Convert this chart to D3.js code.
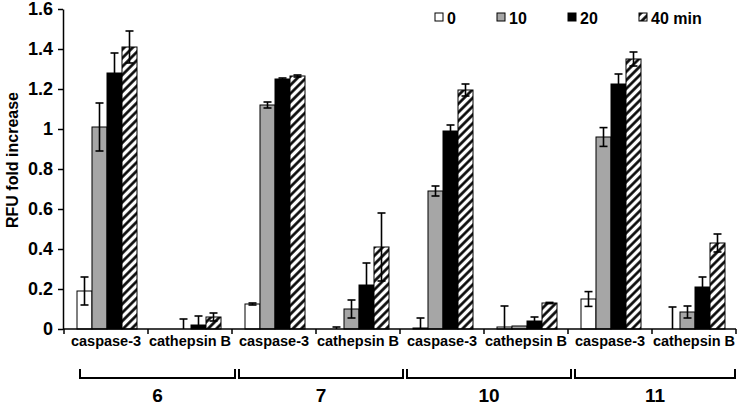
<!DOCTYPE html>
<html>
<head>
<meta charset="utf-8">
<script src="https://cdn.jsdelivr.net/npm/d3@7"></script>
<style>
  html, body { margin: 0; padding: 0; background: #fff; }
  svg { display: block; font-family: "Liberation Sans", Arial, sans-serif; font-weight: bold; }
  svg text { font-weight: bold; }
</style>
</head>
<body>
<svg id="chart" width="740" height="405"></svg>
<script>
// ---- data ----
const groups = ["6", "7", "10", "11"];
const enzymes = ["caspase-3", "cathepsin B"];
const times = ["0", "10", "20", "40 min"];
const yTicks = [0, 0.2, 0.4, 0.6, 0.8, 1, 1.2, 1.4, 1.6];

// one value per category (group x enzyme), in order 6/casp,6/cath,7/casp,7/cath,...
const v0  = [0.19, 0.00, 0.125, 0.00, 0.005, 0.01, 0.15, 0.00];
const e0  = [0.07, 0.00, 0.005, 0.01, 0.05, 0.105, 0.037, 0.11];
const v10 = [1.01, 0.00, 1.12, 0.10, 0.69, 0.015, 0.96, 0.085];
const e10 = [0.12, 0.05, 0.015, 0.045, 0.025, 0.00, 0.047, 0.03];
const v20 = [1.28, 0.02, 1.25, 0.22, 0.99, 0.04, 1.225, 0.21];
const e20 = [0.10, 0.045, 0.005, 0.11, 0.03, 0.02, 0.05, 0.05];
const v40 = [1.41, 0.06, 1.265, 0.41, 1.195, 0.13, 1.35, 0.43];
const e40 = [0.08, 0.02, 0.005, 0.17, 0.03, 0.003, 0.035, 0.045];

const seriesVals = [v0, v10, v20, v40];
const seriesErrs = [e0, e10, e20, e40];

// ---- build ----
const categories = [];
groups.forEach(g => enzymes.forEach(e => categories.push(g + "|" + e)));

const svg = d3.select("#chart");
const x0 = 64, x1 = 736, yBase = 329, yTop = 9;
const FONT = "Liberation Sans, Arial, sans-serif";

const x = d3.scaleBand().domain(categories).range([x0, x1]).padding(0);
const xi = d3.scaleBand().domain(times).range([13, 73]).padding(0);
const y = d3.scaleLinear().domain([0, 1.6]).range([yBase, yTop]);

const defs = svg.append("defs");
const pat = defs.append("pattern")
  .attr("id", "hatch").attr("patternUnits", "userSpaceOnUse")
  .attr("width", 6).attr("height", 6)
  .attr("patternTransform", "rotate(45)");
pat.append("rect").attr("width", 6).attr("height", 6).attr("fill", "#fff");
pat.append("line").attr("x1", 1.5).attr("y1", 0).attr("x2", 1.5).attr("y2", 6)
  .attr("stroke", "#000").attr("stroke-width", 2.6);

const fills = ["#ffffff", "#a6a6a6", "#000000", "url(#hatch)"];

// bars
const data = [];
categories.forEach((c, ci) => {
  times.forEach((t, ti) => {
    data.push({ c, t, ti, v: seriesVals[ti][ci], e: seriesErrs[ti][ci] });
  });
});

svg.append("g").selectAll("rect").data(data).join("rect")
  .attr("x", d => x(d.c) + xi(d.t))
  .attr("y", d => y(d.v))
  .attr("width", xi.bandwidth())
  .attr("height", d => yBase - y(d.v))
  .attr("fill", d => fills[d.ti])
  .attr("stroke", "#000")
  .attr("stroke-width", 1);

// error bars
const eb = svg.append("g").attr("stroke", "#000").attr("stroke-width", 1.6);
data.filter(d => d.e > 0).forEach(d => {
  const cx = x(d.c) + xi(d.t) + xi.bandwidth() / 2;
  const hi = y(d.v + d.e);
  const lo = y(Math.max(0, d.v - d.e));
  eb.append("line").attr("x1", cx).attr("x2", cx).attr("y1", hi).attr("y2", lo);
  eb.append("line").attr("x1", cx - 4).attr("x2", cx + 4).attr("y1", hi).attr("y2", hi);
  if (d.v - d.e > 0) {
    eb.append("line").attr("x1", cx - 4).attr("x2", cx + 4).attr("y1", lo).attr("y2", lo);
  }
});

// y axis
const yAxis = svg.append("g").attr("transform", `translate(${x0 - 1},0)`)
  .call(d3.axisLeft(y).tickValues(yTicks).tickFormat(d3.format("~g"))
    .tickSize(5).tickSizeOuter(0).tickPadding(5));
yAxis.select(".domain").attr("stroke", "#000").attr("stroke-width", 1.5);
yAxis.selectAll(".tick line").attr("stroke", "#000").attr("stroke-width", 1.5);
yAxis.selectAll("text").attr("font-size", 18).attr("font-weight", "bold")
  .attr("font-family", FONT).attr("fill", "#000");

// x axis line + boundary ticks
const xg = svg.append("g");
xg.append("line").attr("x1", x0 - 1).attr("x2", x1).attr("y1", yBase).attr("y2", yBase)
  .attr("stroke", "#000").attr("stroke-width", 1.5);
const bounds = categories.map(c => x(c)).concat([x1]);
xg.selectAll("line.tk").data(bounds).join("line").attr("class", "tk")
  .attr("x1", d => d).attr("x2", d => d).attr("y1", yBase).attr("y2", yBase + 5)
  .attr("stroke", "#000").attr("stroke-width", 1.5);

// category labels
const xAxis = svg.append("g").attr("transform", `translate(0,${yBase})`)
  .call(d3.axisBottom(x).tickSize(0).tickPadding(7).tickFormat(c => c.split("|")[1]));
xAxis.select(".domain").remove();
xAxis.selectAll("text").attr("font-size", 14.5).attr("font-weight", "bold")
  .attr("font-family", FONT).attr("fill", "#000");

// group brackets
const gb = svg.append("g");
groups.forEach((g, gi) => {
  const left = x(g + "|" + enzymes[0]);
  const right = x(g + "|" + enzymes[1]) + x.bandwidth();
  const bl = gi === 0 ? left + 16 : left + 7;
  const br = gi === groups.length - 1 ? right - 1 : right + 3;
  gb.append("path")
    .attr("d", `M${bl},369 V378 H${br} V369`)
    .attr("fill", "none").attr("stroke", "#000").attr("stroke-width", 2);
  gb.append("text").attr("x", (bl + br) / 2).attr("y", 402)
    .attr("text-anchor", "middle").attr("font-size", 19).attr("font-weight", "bold")
    .attr("font-family", FONT).attr("fill", "#000")
    .text(g);
});

// y title
svg.append("text")
  .attr("transform", "translate(18,160) rotate(-90)")
  .attr("text-anchor", "middle").attr("font-size", 16).attr("font-weight", "bold")
  .attr("font-family", FONT).attr("fill", "#000")
  .text("RFU fold increase");

// legend
const legX = [435, 497, 568, 639];
const leg = svg.append("g");
times.forEach((t, i) => {
  const lg = leg.append("g").attr("transform", `translate(${legX[i]},13)`);
  lg.append("rect").attr("width", 8).attr("height", 8)
    .attr("fill", fills[i]).attr("stroke", "#000").attr("stroke-width", 1);
  lg.append("text").attr("x", 12).attr("y", 11).attr("font-size", 16)
    .attr("font-weight", "bold").attr("font-family", FONT)
    .attr("fill", "#000").text(t);
});
</script>
</body>
</html>
